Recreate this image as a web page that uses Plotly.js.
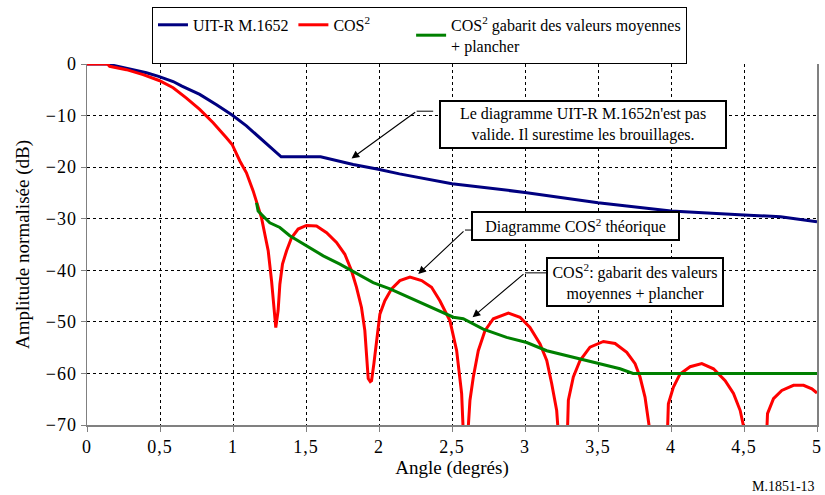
<!DOCTYPE html>
<html>
<head>
<meta charset="utf-8">
<script src="https://cdn.plot.ly/plotly-3.0.1.min.js"></script>
<style>
html,body{margin:0;padding:0;background:#fff;}
#chart{width:825px;height:495px;}
#chart .xtick text, #chart .ytick text{letter-spacing:1px;}
</style>
</head>
<body>
<div id="chart"></div>
<script>
// Series names
const seriesNames = ["UIT-R M.1652", "COS<sup>2</sup>&nbsp;&nbsp;&nbsp;&nbsp;&nbsp;&nbsp;&nbsp;&nbsp;&nbsp;", "COS<sup>2</sup> gabarit des valeurs moyennes<br>+ plancher"];

// UIT-R M.1652 (blue)
const uitX = [0, 0.14, 0.178, 0.316, 0.407, 0.49, 0.59, 0.65, 0.772, 0.887, 0.994, 1.092, 1.184, 1.275, 1.33, 1.6, 1.823, 1.995, 2.14, 2.5, 3.0, 3.5, 4.0, 4.5, 4.75, 5.0];
const uitY = [0, 0, -0.25, -1.1, -1.7, -2.4, -3.4, -4.3, -5.9, -7.9, -9.9, -12, -14.3, -16.6, -18, -18, -19.5, -20.4, -21.3, -23.2, -24.9, -26.9, -28.5, -29.3, -29.6, -30.6];

// COS^2 theoretical (red)
const cosX = [0, 0.14, 0.155, 0.27, 0.384, 0.494, 0.59, 0.681, 0.772, 0.864, 0.955, 0.994, 1.047, 1.092, 1.138, 1.161, 1.195, 1.218, 1.241, 1.264, 1.275, 1.293, 1.309, 1.321, 1.339, 1.367, 1.401, 1.446, 1.503, 1.572, 1.641, 1.709, 1.766, 1.812, 1.846, 1.88, 1.903, 1.915, 1.926, 1.94, 1.949, 1.965, 1.984, 2.006, 2.04, 2.086, 2.143, 2.212, 2.292, 2.36, 2.417, 2.486, 2.532, 2.566, 2.59, 2.61, 2.623, 2.646, 2.68, 2.726, 2.783, 2.886, 2.966, 3.034, 3.103, 3.149, 3.183, 3.217, 3.25, 3.29, 3.297, 3.331, 3.377, 3.445, 3.537, 3.617, 3.697, 3.754, 3.788, 3.822, 3.9, 3.975, 3.982, 4.016, 4.062, 4.131, 4.211, 4.291, 4.371, 4.428, 4.474, 4.51, 4.6, 4.655, 4.661, 4.702, 4.759, 4.839, 4.908, 4.965, 5.0];
const cosY = [0, 0, -0.45, -1.1, -2.05, -3.2, -4.6, -6.6, -8.8, -11.4, -14.3, -15.6, -18.8, -21.1, -24.6, -26.9, -29.8, -33, -36.2, -42, -45.9, -51.1, -47.8, -42.7, -38.8, -36.2, -33.7, -32, -31.3, -31.4, -32.7, -34.6, -36.9, -40.1, -43.3, -47.2, -51.7, -56.2, -61, -61.6, -61.4, -58.1, -53.6, -48.5, -45.9, -43.6, -42, -41.3, -42, -43.3, -45.9, -49.8, -55.6, -63.9, -80, -72, -65.2, -60.7, -55.6, -51.7, -49.4, -48.3, -49.1, -51.1, -54.3, -57.5, -62, -67.2, -80, -72, -65.2, -60.7, -57.5, -54.9, -53.8, -54.2, -55.9, -58.1, -60.7, -64.6, -80, -72, -65.9, -62.7, -60.1, -58.7, -58.1, -59.1, -61.4, -63.9, -67.2, -72, -80, -72, -67.8, -64.9, -63.3, -62.3, -62.3, -63, -63.8];

// COS^2 mean-value mask + floor (green)
const maskX = [1.161, 1.172, 1.252, 1.321, 1.389, 1.503, 1.618, 1.732, 1.812, 1.96, 2.075, 2.234, 2.417, 2.509, 2.577, 2.714, 2.874, 3.012, 3.149, 3.331, 3.514, 3.651, 3.74, 5.0];
const maskY = [-26.9, -28.5, -30.8, -31.7, -33.3, -35.3, -37.2, -38.8, -40.1, -42.4, -43.6, -45.6, -47.8, -49.1, -49.4, -51.4, -53, -54, -55.6, -56.9, -58.1, -59.1, -60, -60];

const xTitle = "Angle (degrés)";
const yTitle = "Amplitude normalisée (dB)";
const noteUit = "Le diagramme UIT-R M.1652n'est pas<br>valide. Il surestime les brouillages.";
const noteCos = "Diagramme COS<sup>2</sup> théorique";
const noteMask = "COS<sup>2</sup>: gabarit des valeurs<br>moyennes + plancher";
const figLabel = "M.1851-13";

const FONT = "Liberation Serif, Times New Roman, serif";

const traces = [
  {x: uitX, y: uitY, name: seriesNames[0], mode: "lines", line: {color: "#000080", width: 3}},
  {x: cosX, y: cosY, name: seriesNames[1], mode: "lines", line: {color: "#ff0000", width: 3}},
  {x: maskX, y: maskY, name: seriesNames[2], mode: "lines", line: {color: "#008000", width: 3}}
];

const axisCommon = {
  showgrid: true, gridcolor: "black", gridwidth: 1, griddash: "dot",
  showline: true, linecolor: "#808080", linewidth: 1.5,
  ticks: "outside", ticklen: 5, tickcolor: "#808080",
  tickfont: {family: FONT, size: 18, color: "#000"},
  zeroline: false
};

function arrow(tipX, tipY, tailX, tailY) {
  return {x: tipX, y: tipY, ax: tailX, ay: tailY, xref: "x", yref: "y", axref: "x", ayref: "y",
    text: "", showarrow: true, arrowhead: 2, arrowsize: 1.4, arrowwidth: 1.1, arrowcolor: "#000"};
}
function box(cx, cy, text, w, h) {
  return {x: cx, y: cy, xref: "x", yref: "y", text: text, showarrow: false, width: w, height: h,
    bgcolor: "#fff", bordercolor: "#000", borderwidth: 2, borderpad: 1, align: "center",
    font: {family: FONT, size: 16, color: "#000"}};
}
function stub(x0, x1, y) {
  return {type: "line", xref: "x", yref: "y", x0: x0, x1: x1, y0: y, y1: y, line: {color: "#000", width: 1}};
}

const layout = {
  width: 825, height: 495,
  margin: {l: 87, r: 8, t: 63, b: 70},
  paper_bgcolor: "#fff", plot_bgcolor: "#fff",
  separators: ", ",
  font: {family: FONT, size: 16, color: "#000"},
  xaxis: Object.assign({}, axisCommon, {range: [0, 5], tick0: 0, dtick: 0.5,
    title: {text: xTitle, font: {family: FONT, size: 19, color: "#000"}, standoff: 2}}),
  yaxis: Object.assign({}, axisCommon, {range: [-70, 0], tick0: 0, dtick: 10, mirror: true,
    title: {text: yTitle, font: {family: FONT, size: 19, color: "#000"}, standoff: 14}}),
  showlegend: true,
  legend: {orientation: "h", x: 0.089, y: 1.155, xanchor: "left", yanchor: "top",
    bordercolor: "#000", borderwidth: 1, bgcolor: "#fff",
    font: {family: FONT, size: 16, color: "#000"}, tracegroupgap: 0},
  annotations: [
    box(3.398, -11.66, noteUit, 282, 43),
    box(3.346, -31.35, noteCos, 203, 24),
    box(3.754, -42.36, noteMask, 172, 44),
    arrow(1.812, -18.3, 2.258, -9.15),
    arrow(2.269, -40.7, 2.589, -32.2),
    arrow(2.641, -49.1, 3.0, -40.5),
    {x: 1, y: -0.17, xref: "paper", yref: "paper", xanchor: "right", yanchor: "middle",
      text: figLabel, showarrow: false, font: {family: FONT, size: 14, color: "#000"}}
  ],
  shapes: [
    stub(2.258, 2.371, -9.15),
    stub(2.589, 2.635, -32.2),
    stub(3.0, 3.149, -40.5)
  ]
};

Plotly.newPlot("chart", traces, layout, {displayModeBar: false, staticPlot: true});
</script>
</body>
</html>
